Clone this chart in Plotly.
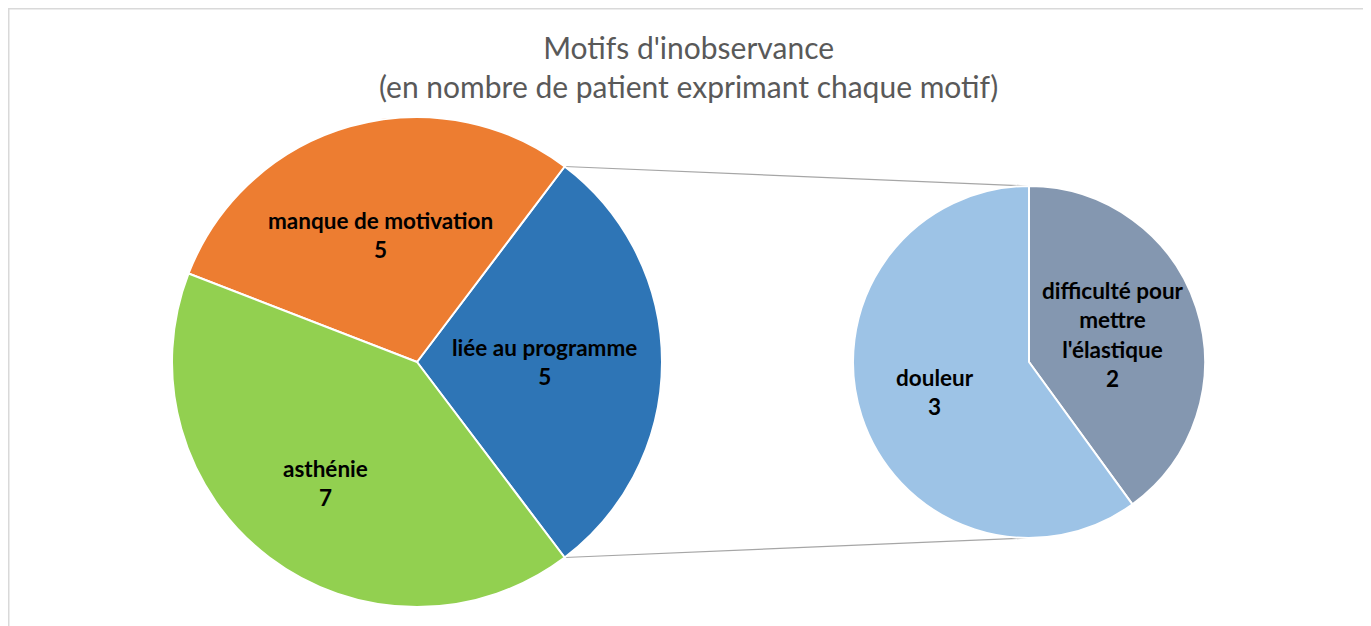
import math
import plotly.graph_objects as go

# ---- data ----
main_labels = ["liée au programme", "manque de motivation", "asthénie"]
main_text = ["liée au programme", "manque de motivation", "asthénie"]
main_values = [5, 5, 7]
main_colors = ["#2E75B6", "#ED7D31", "#92D050"]

sub_labels = ["difficulté pour mettre l'élastique", "douleur"]
sub_text = ["difficulté pour<br>mettre<br>l'élastique", "douleur"]
sub_values = [2, 3]
sub_colors = ["#8497B0", "#9DC3E6"]

title_text = "Motifs d'inobservance<br>(en nombre de patient exprimant chaque motif)"

# ---- layout geometry (page pixels; the page body adds an 8px offset) ----
OFF = 8
W, H = 1371 - OFF, 626 - OFF
cx1, cy1, r1 = 417 - OFF, 362 - OFF, 245
cx2, cy2, r2 = 1029 - OFF, 362 - OFF, 176
main_label_frac = [0.52, 0.54, 0.62]
sub_label_frac = [0.50, 0.56]

def dom(cx, cy, r):
    return dict(x=[(cx - r) / W, (cx + r) / W], y=[1 - (cy + r) / H, 1 - (cy - r) / H])

total = sum(main_values)
half_angle = main_values[0] / total * 360 / 2  # blue slice centred on 3 o'clock

fig = go.Figure()
fig.add_trace(go.Pie(
    labels=main_labels, values=main_values, textinfo="none",
    marker=dict(colors=main_colors, line=dict(color="white", width=2)),
    sort=False, direction="counterclockwise", rotation=90 - half_angle,
    domain=dom(cx1, cy1, r1), showlegend=False, hoverinfo="label+value",
))
fig.add_trace(go.Pie(
    labels=sub_labels, values=sub_values, textinfo="none",
    marker=dict(colors=sub_colors, line=dict(color="white", width=2)),
    sort=False, direction="clockwise", rotation=0,
    domain=dom(cx2, cy2, r2), showlegend=False, hoverinfo="label+value",
))

label_font = dict(family="Lato", size=22.5, color="black")
annotations = []

def add_labels(texts, values, start_deg, sign, cx, cy, r, fracs):
    tot = sum(values)
    ang = start_deg
    for t, v, f in zip(texts, values, fracs):
        span = v / tot * 360
        mid = math.radians(ang + sign * span / 2)
        ang += sign * span
        px = cx + f * r * math.cos(mid)
        py = cy - f * r * math.sin(mid)
        annotations.append(dict(text=f"<b>{t}<br>{v}</b>", xref="paper", yref="paper",
                                x=px / W, y=1 - py / H, xanchor="center", yanchor="middle",
                                showarrow=False, align="center", font=label_font))

# main pie: counterclockwise (math angle +) from -half_angle
add_labels(main_text, main_values, -half_angle, 1, cx1, cy1, r1, main_label_frac)
# secondary pie: clockwise (math angle -) from 12 o'clock
add_labels(sub_text, sub_values, 90, -1, cx2, cy2, r2, sub_label_frac)

# connector lines derived from the blue slice edges
a = math.radians(half_angle)
shapes = []
for s in (1, -1):
    x0 = cx1 + r1 * math.cos(a)
    y0 = cy1 - s * r1 * math.sin(a)
    x1 = cx2
    y1 = cy2 - s * r2
    shapes.append(dict(type="line", xref="paper", yref="paper",
                       x0=x0 / W, y0=1 - y0 / H, x1=x1 / W, y1=1 - y1 / H,
                       line=dict(color="#A6A6A6", width=1.2), layer="below"))
# chart frame
shapes.append(dict(type="rect", xref="paper", yref="paper",
                   x0=0, x1=(1366 - OFF) / W, y0=-0.05, y1=1,
                   line=dict(color="#D9D9D9", width=3), layer="below"))

annotations.append(dict(text=title_text, xref="paper", yref="paper",
                        x=(688 - OFF) / W, xanchor="center",
                        y=1 - (27 - OFF) / H, yanchor="top", showarrow=False,
                        align="center",
                        font=dict(family="Lato", size=30, color="#595959")))

fig.update_layout(
    width=W, height=H,
    margin=dict(l=0, r=0, t=0, b=0),
    paper_bgcolor="white", plot_bgcolor="white",
    shapes=shapes,
    annotations=annotations,
)
fig.write_html("out.html")
